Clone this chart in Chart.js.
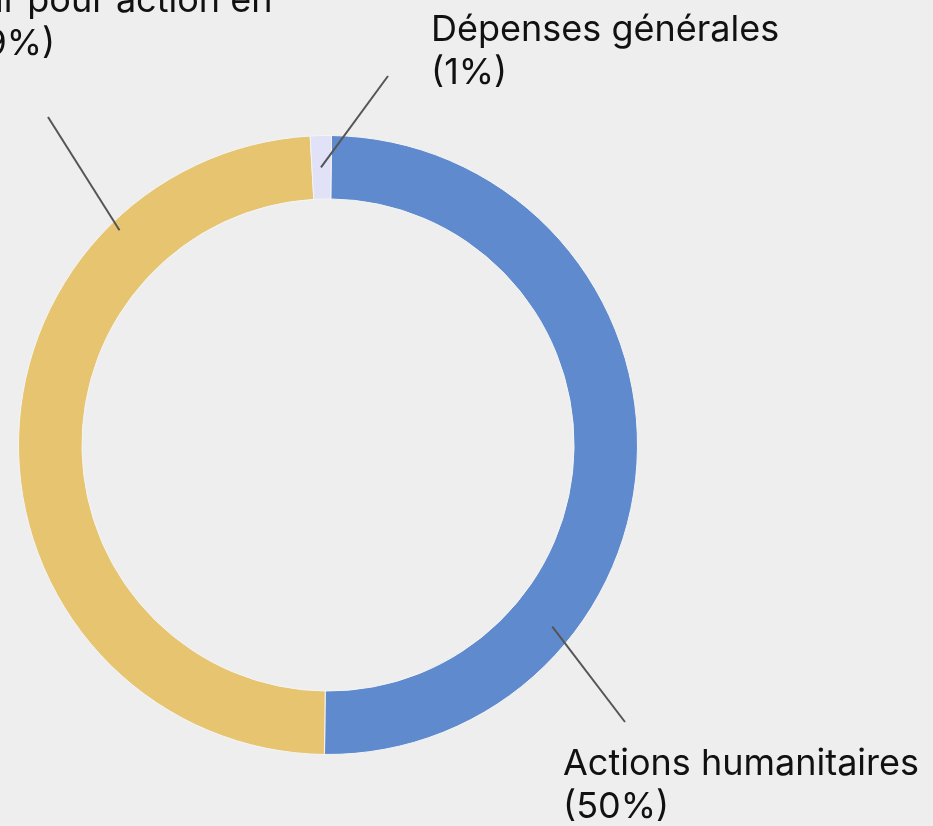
<!DOCTYPE html>
<html>
<head>
<meta charset="utf-8">
<script src="https://cdn.jsdelivr.net/npm/chart.js@4.4.1/dist/chart.umd.min.js"></script>
<style>
  html, body { margin: 0; padding: 0; background: #eeeeee; }
  #wrap { width: 933px; height: 826px; }
</style>
</head>
<body>
<div id="wrap"><canvas id="donut" width="933" height="826"></canvas></div>
<script>
// data (percent of total)
const categories = ['Actions humanitaires', 'Agir pour action en', 'Dépenses générales'];
const shares = [50.0, 48.9, 1.1];
const percentLabels = ['(50%)', '(49%)', '(1%)'];
const sliceColors = ['#5f8bce', '#e6c470', '#e1e1f8'];

// label placement (labels were moved by hand in the source)
// frac = where along the slice the leader starts, depth = 0 inner edge .. 1 outer edge
const labelSpots = [
    { frac: 0.713, depth: 0.67, end: [625, 722], text: [563, 775] },
    { frac: 0.768, depth: 0.84, end: [48, 117], text: [-52, 12] },
    { frac: 0.47, depth: 0.5, end: [388, 76], text: [431, 41] }
];

const FONT_SIZE = 36;
const LINE_H = 43;

const calloutPlugin = {
    id: 'callouts',
    afterDraw(chart) {
        const ctx = chart.ctx;
        const arcs = chart.getDatasetMeta(0).data;
        ctx.save();
        arcs.forEach((arc, i) => {
            const spot = labelSpots[i];
            const p = arc.getProps(['x', 'y', 'startAngle', 'endAngle', 'innerRadius', 'outerRadius'], true);
            const a = p.startAngle + spot.frac * (p.endAngle - p.startAngle);
            const r = p.innerRadius + spot.depth * (p.outerRadius - p.innerRadius);
            const sx = p.x + r * Math.cos(a);
            const sy = p.y + r * Math.sin(a);

            ctx.strokeStyle = '#555555';
            ctx.lineWidth = 2;
            ctx.beginPath();
            ctx.moveTo(sx, sy);
            ctx.lineTo(spot.end[0], spot.end[1]);
            ctx.stroke();

            ctx.fillStyle = '#111111';
            ctx.font = FONT_SIZE + 'px Inter, "Noto Sans", sans-serif';
            ctx.textAlign = 'left';
            ctx.textBaseline = 'alphabetic';
            ctx.fillText(categories[i], spot.text[0], spot.text[1]);
            ctx.fillText(percentLabels[i], spot.text[0], spot.text[1] + LINE_H);
        });
        ctx.restore();
    }
};

new Chart(document.getElementById('donut'), {
    type: 'doughnut',
    data: {
        labels: categories,
        datasets: [{
            data: shares,
            backgroundColor: sliceColors,
            borderColor: '#f4f4f4',
            borderWidth: 1
        }]
    },
    options: {
        responsive: false,
        animation: false,
        rotation: 0.65,
        cutout: '79.5%',
        layout: {
            padding: { left: 18, right: 295, top: 135, bottom: 71 }
        },
        plugins: {
            legend: { display: false },
            tooltip: { enabled: false }
        }
    },
    plugins: [calloutPlugin]
});
</script>
</body>
</html>
